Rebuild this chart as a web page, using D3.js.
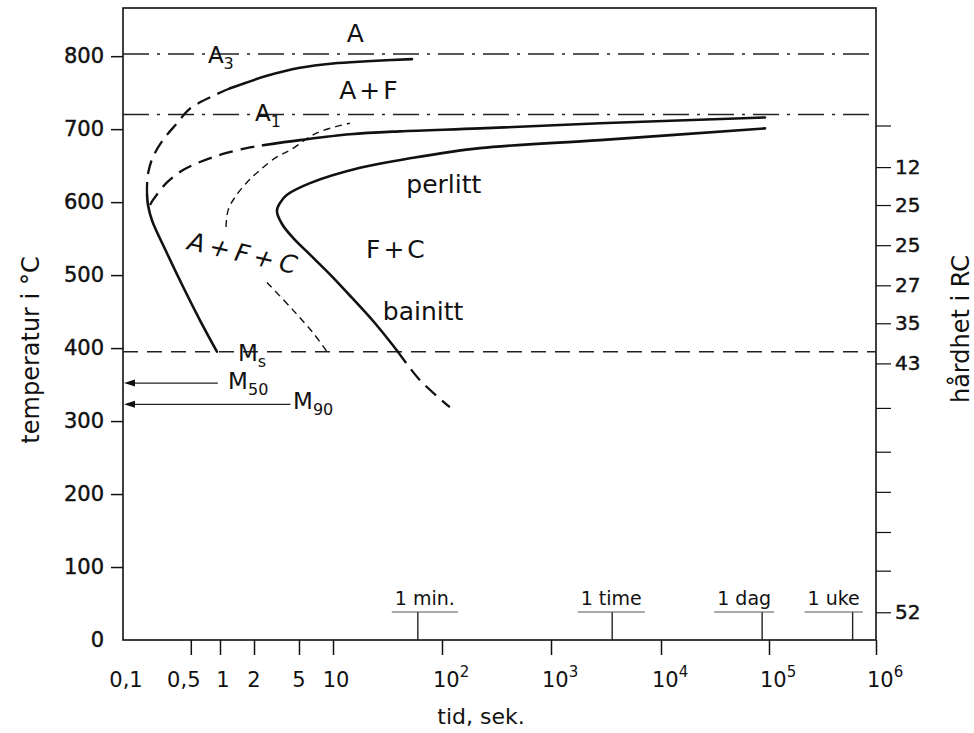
<!DOCTYPE html>
<html>
<meta charset="utf-8">
<head>
  <title>TTT-diagram</title>
</head>

<style>
body { margin: 0; background: #fff; }
svg { display: block; }
text {
  font-family: "DejaVu Sans", sans-serif;
  fill: #111;
}
.frame { fill: none; stroke: #111; stroke-width: 1.6; }
.axis path { display: none; }
.axis line { stroke: #111; stroke-width: 1.5; }
.axis text { font-size: 21px; fill: #111; font-family: "DejaVu Sans", sans-serif; stroke: #111; stroke-width: 0.45px; }
.curve { fill: none; stroke: #111; stroke-width: 2.6; stroke-linecap: round; }
.curve.dash { stroke-width: 2.3; stroke-dasharray: 14 8; stroke-linecap: butt; }
.curve.thin { stroke-width: 1.4; stroke-dasharray: 7 5; stroke-linecap: butt; }
.crit { stroke: #222; stroke-width: 1.4; stroke-dasharray: 26 8 3 8; }
.ms { stroke: #222; stroke-width: 1.5; stroke-dasharray: 15 9; }
.mline { stroke: #222; stroke-width: 1.3; }
.marker line { stroke: #222; stroke-width: 1.4; }
.lbl { font-size: 25px; }
</style>

<body>
  <svg width="974" height="733"></svg>

  <script src="https://cdnjs.cloudflare.com/ajax/libs/d3/7.8.5/d3.min.js"></script>

  <script>
// temperature axis (left)
var tempTicks = [0, 100, 200, 300, 400, 500, 600, 700, 800]
// time axis, seconds
var timeTicks = [0.1, 0.5, 1, 2, 5, 10, 100, 1e3, 1e4, 1e5, 1e6]
var timeLabels = ['0,1', '0,5', '1', '2', '5', '10', '10^2', '10^3', '10^4', '10^5', '10^6']
// hardness scale (right), placed at temperatures
var hardTemps = [705, 648, 596, 541, 486, 434, 379, 318, 258, 203, 148, 95, 38]
var hardLabels = ['', '12', '25', '25', '27', '35', '43', '', '', '', '', '', '52']

// critical temperatures
var A3 = 803, A1 = 720, Ms = 395
var mLines = [
  {sub: '50', T: 352, t: 0.95},
  {sub: '90', T: 323, t: 4.2}
]

// time marks
var timeMarks = [
  {label: '1 min.', t: 60},
  {label: '1 time', t: 3600},
  {label: '1 dag', t: 86400},
  {label: '1 uke', t: 604800}
]

// curves: [time s, temperature C]
var ferriteSolid = [[1.23, 756], [2.6, 773], [5.1, 784], [10, 790], [20.5, 793], [53, 796]]
var ferriteDashed = [[1.23, 756], [0.83, 745], [0.49, 728], [0.36, 708], [0.258, 685], [0.204, 662], [0.183, 642], [0.177, 624], [0.177, 610]]
var leftSolid = [[0.177, 610], [0.181, 596], [0.199, 575], [0.284, 530], [0.416, 484], [0.622, 438], [0.93, 395]]
var pearliteStartDashed = [[0.19, 596], [0.204, 603], [0.284, 627], [0.416, 644], [0.622, 655], [1.06, 666], [1.84, 675], [2.4, 678]]
var pearliteStart = [[2.4, 678], [5.1, 685], [14.3, 693], [41, 697], [223, 701], [2790, 708], [91800, 716]]
var pearliteEnd = [[91800, 701], [2790, 685], [223, 674], [50.8, 660], [17.7, 647], [6.26, 626], [3.92, 610], [3.4, 599], [3.19, 588],
  [3.54, 570], [4.43, 551], [6.26, 528], [9.4, 501], [14.9, 469], [24.3, 434], [39.4, 395]]
var bainiteDashed = [[39.4, 395], [62.8, 356], [118, 319]]
var carbideUpper = [[1.13, 566], [1.18, 589], [1.36, 607], [1.73, 627], [2.26, 644], [3.19, 662], [4.16, 671], [7.22, 695], [14.3, 708]]
var carbideLower = [[2.6, 490], [4.43, 452], [6.65, 421], [8.85, 395]]

// region labels, placed at [time, temperature]
var regionLabels = [
  {text: 'A', t: 16, T: 820},
  {text: 'A+F', t: 21.8, T: 741},
  {text: 'perlitt', t: 104, T: 612},
  {text: 'F+C', t: 38.6, T: 523},
  {text: 'bainitt', t: 67, T: 438}
]
var subLabels = [
  {main: 'A', sub: '3', t: 0.75, T: 790},
  {main: 'A', sub: '1', t: 2.04, T: 711},
  {main: 'M', sub: 's', t: 1.44, T: 382},
  {main: 'M', sub: '50', t: 1.18, T: 344},
  {main: 'M', sub: '90', t: 4.43, T: 316}
]

var svg = d3.select('svg')
var plotL = 123, plotR = 876, plotT = 8, plotB = 640

// the printed log axis has slightly uneven decades
var xl = d3.scaleLinear()
  .domain([-1, 0, 1, 2, 3, 4, 5, 6])
  .range([123, 220, 333, 442, 551, 661, 769, 876])
var x = function(t) { return xl(Math.log10(t)) }
var y = d3.scaleLinear().domain([0, 866]).range([plotB, plotT])

// frame
svg.append('rect').attr('class', 'frame')
  .attr('x', plotL).attr('y', plotT)
  .attr('width', plotR - plotL).attr('height', plotB - plotT)

// left axis
var gy = svg.append('g').attr('class', 'axis')
  .attr('transform', 'translate(' + plotL + ',0)')
  .call(d3.axisLeft(y).tickValues(tempTicks).tickSize(12).tickPadding(7))
gy.selectAll('.tick').filter(function(d) { return d === 0 }).select('line').remove()

// right axis
var gr = svg.append('g').attr('class', 'axis')
  .attr('transform', 'translate(' + plotR + ',0)')
  .call(d3.axisRight(y).tickValues(hardTemps).tickSize(15).tickPadding(4)
    .tickFormat(function(d, i) { return hardLabels[i] }))
gr.selectAll('line').style('stroke-width', 1.2)
gr.selectAll('text').style('font-size', '20px')

// bottom axis
var gx = svg.append('g').attr('class', 'axis')
  .attr('transform', 'translate(0,' + plotB + ')')
  .call(d3.axisBottom(xl).tickValues(timeTicks.map(Math.log10)).tickSize(15).tickFormat(''))
gx.selectAll('.tick').filter(function(d, i) { return i === 0 }).select('line').remove()

var labelShift = [3, -7, 3, 0, 0, 3, 0, 0, 0, 0, 0]
timeTicks.forEach(function(t, i) {
  var parts = timeLabels[i].split('^')
  var tx = svg.append('text')
    .attr('y', 687)
    .attr('font-size', 21)
  if (parts.length === 1) {
    tx.attr('x', x(t) + labelShift[i]).attr('text-anchor', 'middle').text(parts[0])
  } else {
    tx.attr('x', x(t) - 9)
    tx.append('tspan').text(parts[0])
    tx.append('tspan').attr('font-size', 15).attr('dy', -10).text(parts[1])
  }
})

// axis titles
svg.append('text')
  .attr('transform', 'translate(39,350) rotate(-90)')
  .attr('text-anchor', 'middle')
  .attr('font-size', 24)
  .text('temperatur i °C')
svg.append('text')
  .attr('transform', 'translate(969,329) rotate(-90)')
  .attr('text-anchor', 'middle')
  .attr('font-size', 24)
  .text('hårdhet i RC')
svg.append('text')
  .attr('x', 481).attr('y', 724)
  .attr('text-anchor', 'middle')
  .attr('font-size', 22)
  .text('tid, sek.')

// critical lines
svg.append('line').attr('class', 'crit')
  .attr('x1', plotL).attr('x2', plotR).attr('y1', y(A3)).attr('y2', y(A3))
svg.append('line').attr('class', 'crit')
  .attr('x1', plotL).attr('x2', plotR).attr('y1', y(A1)).attr('y2', y(A1))
svg.append('line').attr('class', 'ms')
  .attr('x1', plotL).attr('x2', plotR).attr('y1', y(Ms)).attr('y2', y(Ms))

mLines.forEach(function(m) {
  var yy = y(m.T)
  svg.append('line').attr('class', 'mline')
    .attr('x1', plotL + 4).attr('x2', x(m.t)).attr('y1', yy).attr('y2', yy)
  svg.append('path')
    .attr('d', 'M' + (plotL + 1) + ',' + yy + 'l11,-3.5v7z')
    .attr('fill', '#111')
})

// time marks
var markShift = [7, -1, -18, -19]
timeMarks.forEach(function(m, i) {
  var g = svg.append('g').attr('class', 'marker')
  var mx = x(m.t), barY = plotB - 28
  g.append('line').attr('x1', mx).attr('x2', mx).attr('y1', plotB).attr('y2', barY)
  var tx = g.append('text')
    .attr('x', mx + markShift[i]).attr('y', barY - 7)
    .attr('text-anchor', 'middle')
    .attr('font-size', 19)
    .text(m.label)
  var w = tx.node().getComputedTextLength() + 6
  g.append('line')
    .attr('x1', mx + markShift[i] - w / 2).attr('x2', mx + markShift[i] + w / 2)
    .attr('y1', barY).attr('y2', barY)
    .style('stroke-width', 1.1).style('stroke', '#555')
})

// curves
var line = d3.line()
  .x(function(d) { return x(d[0]) })
  .y(function(d) { return y(d[1]) })
  .curve(d3.curveCatmullRom.alpha(0.5))

function curve(data, cls) {
  svg.append('path').attr('class', 'curve ' + (cls || '')).attr('d', line(data))
}
curve(ferriteSolid)
curve(ferriteDashed, 'dash')
curve(leftSolid)
curve(pearliteStartDashed, 'dash')
curve(pearliteStart)
curve(pearliteEnd)
curve(bainiteDashed, 'dash')
curve(carbideUpper, 'thin')
curve(carbideLower, 'thin')

// labels
regionLabels.forEach(function(l) {
  svg.append('text').attr('class', 'lbl')
    .attr('x', x(l.t)).attr('y', y(l.T))
    .attr('text-anchor', 'middle')
    .attr('letter-spacing', l.text.indexOf('+') >= 0 ? 3 : 0)
    .text(l.text)
})
subLabels.forEach(function(l) {
  var tx = svg.append('text').attr('class', 'lbl')
    .style('font-size', '23px')
    .attr('x', x(l.t)).attr('y', y(l.T))
  tx.append('tspan').text(l.main)
  tx.append('tspan').attr('font-size', 16).attr('dy', 6).text(l.sub)
})
svg.append('text').attr('class', 'lbl')
  .attr('transform', 'translate(' + x(0.435) + ',' + y(536) + ') rotate(13) skewX(-10)')
  .attr('letter-spacing', 5)
  .text('A+F+C')
  </script>
</body>
</html>
